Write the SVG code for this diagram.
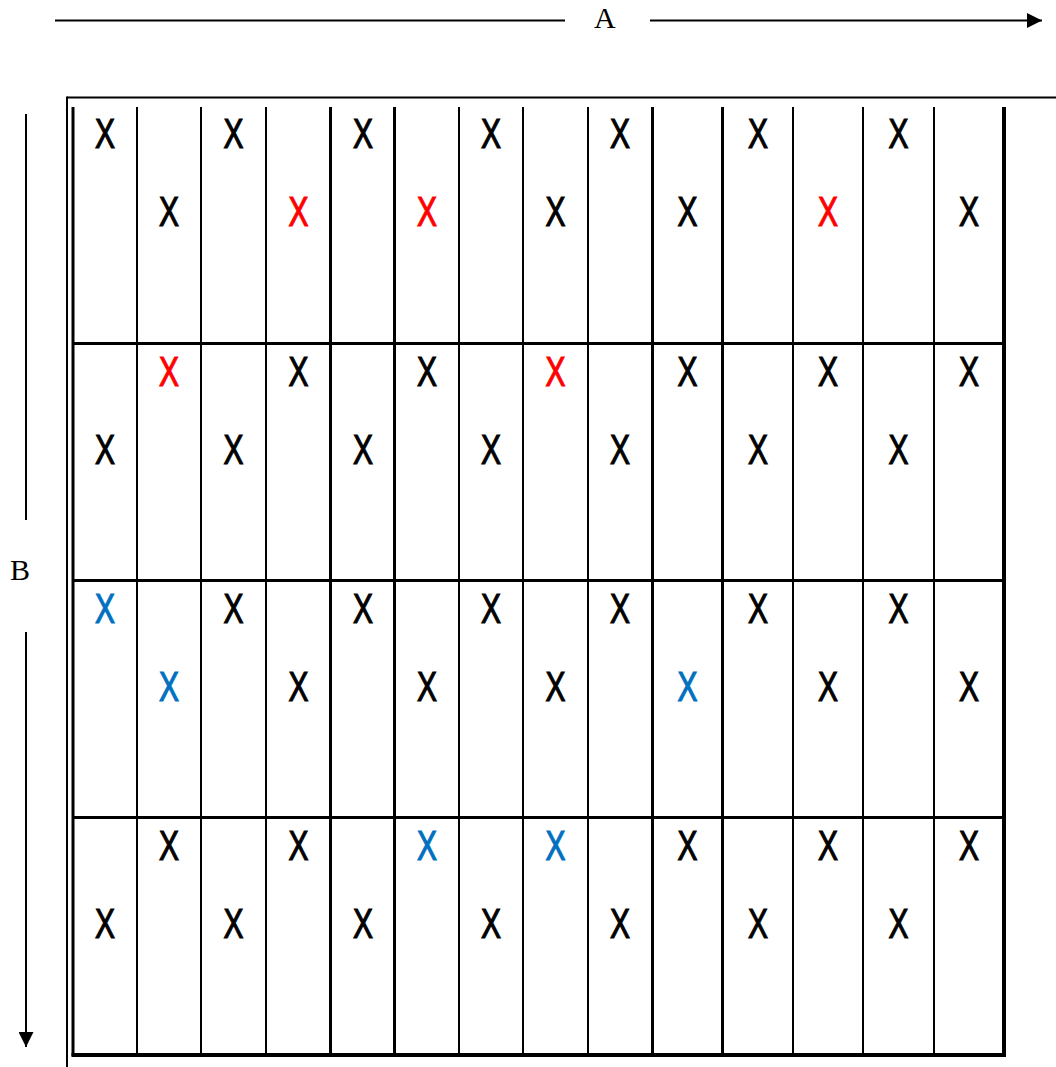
<svg xmlns="http://www.w3.org/2000/svg" width="1056" height="1067" viewBox="0 0 1056 1067">
<style>
.lbl{font-family:"Liberation Serif","Times New Roman",serif;font-size:30px;fill:#000}
.x{font-family:"Liberation Sans",Arial,sans-serif;font-size:42px;text-anchor:middle;fill:#000;stroke:#000;stroke-width:1.2px}
.r{fill:#FF0000;stroke:#FF0000}
.b{fill:#0070C0;stroke:#0070C0}
.ln{stroke:#000;fill:none}
</style>
<defs>
<marker id="ah" viewBox="0 0 15 15" refX="15" refY="7.5" markerWidth="15" markerHeight="15" markerUnits="userSpaceOnUse" orient="auto">
<path d="M0,0 L15,7.5 L0,15 Z" fill="#000"/>
</marker>
</defs>
<rect width="1056" height="1067" fill="#fff"/>
<g id="connectors">
<line class="ln" x1="55" y1="20.5" x2="565" y2="20.5" stroke-width="2"/>
<line class="ln" x1="650" y1="20.5" x2="1042" y2="20.5" stroke-width="2" marker-end="url(#ah)"/>
<line class="ln" x1="26" y1="114" x2="26" y2="520" stroke-width="2"/>
<line class="ln" x1="26" y1="632" x2="26" y2="1047" stroke-width="2" marker-end="url(#ah)"/>
</g>
<g id="labels">
<text class="lbl" x="594" y="28">A</text>
<text class="lbl" x="10" y="580">B</text>
</g>
<g id="frame">
<line class="ln" x1="67" y1="97.5" x2="1056" y2="97.5" stroke="#333" stroke-width="2"/>
<line class="ln" x1="67" y1="96.5" x2="67" y2="1067" stroke-width="2"/>
</g>
<g id="grid">
<line class="ln" x1="73" y1="107" x2="73" y2="1056" stroke-width="3"/>
<line class="ln" x1="137" y1="107" x2="137" y2="1055" stroke-width="2"/>
<line class="ln" x1="201" y1="107" x2="201" y2="1055" stroke-width="2"/>
<line class="ln" x1="266" y1="107" x2="266" y2="1055" stroke-width="2"/>
<line class="ln" x1="330.5" y1="107" x2="330.5" y2="1055" stroke-width="3"/>
<line class="ln" x1="394.5" y1="107" x2="394.5" y2="1055" stroke-width="3"/>
<line class="ln" x1="459" y1="107" x2="459" y2="1055" stroke-width="2"/>
<line class="ln" x1="523" y1="107" x2="523" y2="1055" stroke-width="2"/>
<line class="ln" x1="588" y1="107" x2="588" y2="1055" stroke-width="2"/>
<line class="ln" x1="652.5" y1="107" x2="652.5" y2="1055" stroke-width="3"/>
<line class="ln" x1="722.5" y1="107" x2="722.5" y2="1055" stroke-width="3"/>
<line class="ln" x1="793" y1="107" x2="793" y2="1055" stroke-width="2"/>
<line class="ln" x1="863" y1="107" x2="863" y2="1055" stroke-width="2"/>
<line class="ln" x1="934" y1="107" x2="934" y2="1055" stroke-width="2"/>
<line class="ln" x1="1004" y1="107" x2="1004" y2="1057" stroke-width="4"/>
<line class="ln" x1="72" y1="343.5" x2="1006" y2="343.5" stroke-width="3"/>
<line class="ln" x1="72" y1="580.5" x2="1006" y2="580.5" stroke-width="3"/>
<line class="ln" x1="72" y1="817.5" x2="1006" y2="817.5" stroke-width="3"/>
<line class="ln" x1="71.5" y1="1055" x2="1006" y2="1055" stroke-width="4"/>
</g>
<g id="row1">
<g id="r1c1"><text class="x" x="105" y="148" textLength="20" lengthAdjust="spacingAndGlyphs">X</text></g>
<g id="r1c2"><text class="x" x="169" y="226" textLength="20" lengthAdjust="spacingAndGlyphs">X</text></g>
<g id="r1c3"><text class="x" x="233.5" y="148" textLength="20" lengthAdjust="spacingAndGlyphs">X</text></g>
<g id="r1c4"><text class="x r" x="298.5" y="226" textLength="20" lengthAdjust="spacingAndGlyphs">X</text></g>
<g id="r1c5"><text class="x" x="363" y="148" textLength="20" lengthAdjust="spacingAndGlyphs">X</text></g>
<g id="r1c6"><text class="x r" x="427" y="226" textLength="20" lengthAdjust="spacingAndGlyphs">X</text></g>
<g id="r1c7"><text class="x" x="491" y="148" textLength="20" lengthAdjust="spacingAndGlyphs">X</text></g>
<g id="r1c8"><text class="x" x="555.5" y="226" textLength="20" lengthAdjust="spacingAndGlyphs">X</text></g>
<g id="r1c9"><text class="x" x="620" y="148" textLength="20" lengthAdjust="spacingAndGlyphs">X</text></g>
<g id="r1c10"><text class="x" x="687.5" y="226" textLength="20" lengthAdjust="spacingAndGlyphs">X</text></g>
<g id="r1c11"><text class="x" x="758" y="148" textLength="20" lengthAdjust="spacingAndGlyphs">X</text></g>
<g id="r1c12"><text class="x r" x="828" y="226" textLength="20" lengthAdjust="spacingAndGlyphs">X</text></g>
<g id="r1c13"><text class="x" x="898.5" y="148" textLength="20" lengthAdjust="spacingAndGlyphs">X</text></g>
<g id="r1c14"><text class="x" x="969" y="226" textLength="20" lengthAdjust="spacingAndGlyphs">X</text></g>
</g>
<g id="row2">
<g id="r2c1"><text class="x" x="105" y="464" textLength="20" lengthAdjust="spacingAndGlyphs">X</text></g>
<g id="r2c2"><text class="x r" x="169" y="386" textLength="20" lengthAdjust="spacingAndGlyphs">X</text></g>
<g id="r2c3"><text class="x" x="233.5" y="464" textLength="20" lengthAdjust="spacingAndGlyphs">X</text></g>
<g id="r2c4"><text class="x" x="298.5" y="386" textLength="20" lengthAdjust="spacingAndGlyphs">X</text></g>
<g id="r2c5"><text class="x" x="363" y="464" textLength="20" lengthAdjust="spacingAndGlyphs">X</text></g>
<g id="r2c6"><text class="x" x="427" y="386" textLength="20" lengthAdjust="spacingAndGlyphs">X</text></g>
<g id="r2c7"><text class="x" x="491" y="464" textLength="20" lengthAdjust="spacingAndGlyphs">X</text></g>
<g id="r2c8"><text class="x r" x="555.5" y="386" textLength="20" lengthAdjust="spacingAndGlyphs">X</text></g>
<g id="r2c9"><text class="x" x="620" y="464" textLength="20" lengthAdjust="spacingAndGlyphs">X</text></g>
<g id="r2c10"><text class="x" x="687.5" y="386" textLength="20" lengthAdjust="spacingAndGlyphs">X</text></g>
<g id="r2c11"><text class="x" x="758" y="464" textLength="20" lengthAdjust="spacingAndGlyphs">X</text></g>
<g id="r2c12"><text class="x" x="828" y="386" textLength="20" lengthAdjust="spacingAndGlyphs">X</text></g>
<g id="r2c13"><text class="x" x="898.5" y="464" textLength="20" lengthAdjust="spacingAndGlyphs">X</text></g>
<g id="r2c14"><text class="x" x="969" y="386" textLength="20" lengthAdjust="spacingAndGlyphs">X</text></g>
</g>
<g id="row3">
<g id="r3c1"><text class="x b" x="105" y="623" textLength="20" lengthAdjust="spacingAndGlyphs">X</text></g>
<g id="r3c2"><text class="x b" x="169" y="701" textLength="20" lengthAdjust="spacingAndGlyphs">X</text></g>
<g id="r3c3"><text class="x" x="233.5" y="623" textLength="20" lengthAdjust="spacingAndGlyphs">X</text></g>
<g id="r3c4"><text class="x" x="298.5" y="701" textLength="20" lengthAdjust="spacingAndGlyphs">X</text></g>
<g id="r3c5"><text class="x" x="363" y="623" textLength="20" lengthAdjust="spacingAndGlyphs">X</text></g>
<g id="r3c6"><text class="x" x="427" y="701" textLength="20" lengthAdjust="spacingAndGlyphs">X</text></g>
<g id="r3c7"><text class="x" x="491" y="623" textLength="20" lengthAdjust="spacingAndGlyphs">X</text></g>
<g id="r3c8"><text class="x" x="555.5" y="701" textLength="20" lengthAdjust="spacingAndGlyphs">X</text></g>
<g id="r3c9"><text class="x" x="620" y="623" textLength="20" lengthAdjust="spacingAndGlyphs">X</text></g>
<g id="r3c10"><text class="x b" x="687.5" y="701" textLength="20" lengthAdjust="spacingAndGlyphs">X</text></g>
<g id="r3c11"><text class="x" x="758" y="623" textLength="20" lengthAdjust="spacingAndGlyphs">X</text></g>
<g id="r3c12"><text class="x" x="828" y="701" textLength="20" lengthAdjust="spacingAndGlyphs">X</text></g>
<g id="r3c13"><text class="x" x="898.5" y="623" textLength="20" lengthAdjust="spacingAndGlyphs">X</text></g>
<g id="r3c14"><text class="x" x="969" y="701" textLength="20" lengthAdjust="spacingAndGlyphs">X</text></g>
</g>
<g id="row4">
<g id="r4c1"><text class="x" x="105" y="938" textLength="20" lengthAdjust="spacingAndGlyphs">X</text></g>
<g id="r4c2"><text class="x" x="169" y="860" textLength="20" lengthAdjust="spacingAndGlyphs">X</text></g>
<g id="r4c3"><text class="x" x="233.5" y="938" textLength="20" lengthAdjust="spacingAndGlyphs">X</text></g>
<g id="r4c4"><text class="x" x="298.5" y="860" textLength="20" lengthAdjust="spacingAndGlyphs">X</text></g>
<g id="r4c5"><text class="x" x="363" y="938" textLength="20" lengthAdjust="spacingAndGlyphs">X</text></g>
<g id="r4c6"><text class="x b" x="427" y="860" textLength="20" lengthAdjust="spacingAndGlyphs">X</text></g>
<g id="r4c7"><text class="x" x="491" y="938" textLength="20" lengthAdjust="spacingAndGlyphs">X</text></g>
<g id="r4c8"><text class="x b" x="555.5" y="860" textLength="20" lengthAdjust="spacingAndGlyphs">X</text></g>
<g id="r4c9"><text class="x" x="620" y="938" textLength="20" lengthAdjust="spacingAndGlyphs">X</text></g>
<g id="r4c10"><text class="x" x="687.5" y="860" textLength="20" lengthAdjust="spacingAndGlyphs">X</text></g>
<g id="r4c11"><text class="x" x="758" y="938" textLength="20" lengthAdjust="spacingAndGlyphs">X</text></g>
<g id="r4c12"><text class="x" x="828" y="860" textLength="20" lengthAdjust="spacingAndGlyphs">X</text></g>
<g id="r4c13"><text class="x" x="898.5" y="938" textLength="20" lengthAdjust="spacingAndGlyphs">X</text></g>
<g id="r4c14"><text class="x" x="969" y="860" textLength="20" lengthAdjust="spacingAndGlyphs">X</text></g>
</g>
</svg>
